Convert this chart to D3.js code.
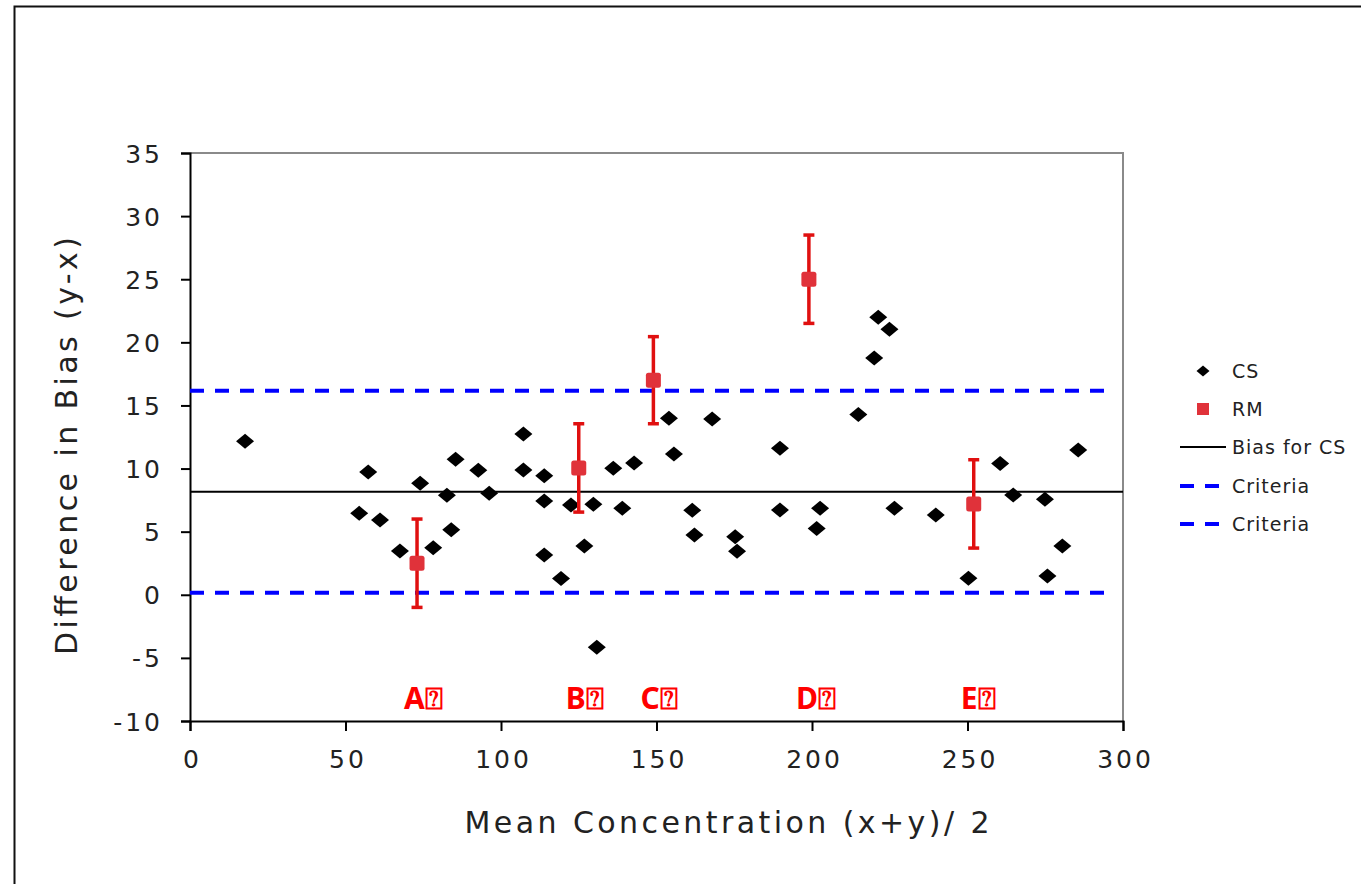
<!DOCTYPE html>
<html><head><meta charset="utf-8">
<script src="https://cdn.jsdelivr.net/npm/d3@7"></script>
<style>body{margin:0;background:#fff}svg{display:block}</style>
</head><body>
<script>
// ---- data ----
const csX = [17.7,54.4,57.3,61.1,67.5,74.0,78.2,82.6,84.0,85.4,92.7,96.2,107.2,107.2,113.9,113.9,113.9,119.3,122.5,126.8,129.7,130.8,136.1,139.0,142.8,154.0,155.6,161.5,162.2,167.9,175.3,175.9,189.7,189.7,201.5,202.6,214.9,220.0,221.3,224.9,226.5,239.8,250.3,260.5,264.7,274.9,275.7,280.5,285.6];
const csY = [12.16,6.45,9.73,5.92,3.47,8.83,3.73,7.88,5.16,10.73,9.86,8.04,12.74,9.88,9.43,7.43,3.15,1.28,7.11,3.86,7.17,-4.16,10.02,6.85,10.44,13.98,11.15,6.69,4.74,13.93,4.60,3.44,11.60,6.72,5.26,6.85,14.29,18.76,21.98,21.03,6.85,6.32,1.30,10.41,7.90,7.56,1.49,3.86,11.47];
const rmX = [73,125,149,199,252];
const rmY = [2.5,10.05,17.0,25.0,7.2];
const rmErr = [3.5,3.5,3.45,3.5,3.5];
const rmLabels = ["A","B","C","D","E"];
const labelY = -8.2;
const biasCS = 8.16;
const criteria = [16.16,0.16];
const xTicks = [0,50,100,150,200,250,300];
const yTicks = [-10,-5,0,5,10,15,20,25,30,35];
const legendItems = ["CS","RM","Bias for CS","Criteria","Criteria"];
const xTitle = "Mean Concentration (x+y)/ 2";
const yTitle = "Difference in Bias (y-x)";

const W = 1361, H = 884;
const svg = d3.select("body").append("svg").attr("width",W).attr("height",H);
const FONT = "'DejaVu Sans', sans-serif";

// outer frame
svg.append("rect").attr("x",14.5).attr("y",6.5).attr("width",1400).attr("height",1000)
  .attr("fill","none").attr("stroke","#111").attr("stroke-width",2);

const L=190, R=1123, T=153, B=721;
const x = d3.scaleLinear().domain([0,300]).range([L,R]);
const y = d3.scaleLinear().domain([-10,35]).range([B,T]);

// plot frame: top/right gray
svg.append("path").attr("d",`M${L},${T}H${R}V${B}`).attr("fill","none").attr("stroke","#8a8a8a").attr("stroke-width",2);

// axes
const fmt = d => String(d);
const xAxis = svg.append("g").attr("transform",`translate(0,${B})`)
  .call(d3.axisBottom(x).tickValues(xTicks).tickSize(10).tickPadding(19).tickFormat(fmt));
const yAxis = svg.append("g").attr("transform",`translate(${L},0)`)
  .call(d3.axisLeft(y).tickValues(yTicks).tickSize(9).tickPadding(18).tickFormat(fmt));
[xAxis,yAxis].forEach(g=>{
  g.select(".domain").attr("stroke","#000").attr("stroke-width",2);
  g.selectAll(".tick line").attr("stroke","#000").attr("stroke-width",2);
  g.selectAll("text").attr("font-family",FONT).attr("font-size",25).attr("fill","#222")
   .attr("letter-spacing","3px");
});
yAxis.selectAll("text").attr("dy","0.36em");
xAxis.selectAll("text").attr("dx","2px");

// reference lines
svg.append("line").attr("x1",L).attr("x2",R).attr("y1",y(biasCS)).attr("y2",y(biasCS))
  .attr("stroke","#000").attr("stroke-width",2);
criteria.forEach(c=>{
  svg.append("line").attr("x1",L).attr("x2",R-10).attr("y1",y(c)).attr("y2",y(c))
    .attr("stroke","#0000ff").attr("stroke-width",4).attr("stroke-dasharray","14 11");
});

// CS diamonds
const diamond = (w,h)=>`M0,${-h/2}L${w/2},0L0,${h/2}L${-w/2},0Z`;
svg.append("g").selectAll("path").data(csX.map((v,i)=>[v,csY[i]])).join("path")
  .attr("transform",d=>`translate(${x(d[0])},${y(d[1])})`)
  .attr("d",diamond(18,15)).attr("fill","#000");

// RM error bars + squares
const rm = rmX.map((v,i)=>({x:v,y:rmY[i],e:rmErr[i],lab:rmLabels[i]}));
const eg = svg.append("g").attr("stroke","#e01010").attr("stroke-width",3.5);
rm.forEach(d=>{
  const cx=x(d.x);
  eg.append("line").attr("x1",cx).attr("x2",cx).attr("y1",y(d.y+d.e)).attr("y2",y(d.y-d.e));
  eg.append("line").attr("x1",cx-5.5).attr("x2",cx+5.5).attr("y1",y(d.y+d.e)).attr("y2",y(d.y+d.e));
  eg.append("line").attr("x1",cx-5.5).attr("x2",cx+5.5).attr("y1",y(d.y-d.e)).attr("y2",y(d.y-d.e));
});
svg.append("g").selectAll("rect").data(rm).join("rect")
  .attr("x",d=>x(d.x)-7.5).attr("y",d=>y(d.y)-7.5).attr("width",15).attr("height",15)
  .attr("rx",2.5).attr("fill","#e0323a");

// RM labels
rm.forEach(d=>{
  const t = svg.append("text").attr("x",x(d.x)-13).attr("y",y(labelY)+11)
    .attr("font-family","'Noto Sans', sans-serif").attr("font-weight","bold").attr("font-size",30).attr("fill","#ff0000");
  t.append("tspan").text(d.lab);
  t.append("tspan").text("\u2370").attr("font-size",30);
});

// axis titles
svg.append("text").attr("x",727).attr("y",833).attr("text-anchor","middle")
  .attr("font-family",FONT).attr("font-size",30).attr("fill","#222")
  .attr("textLength",525).attr("lengthAdjust","spacing").text(xTitle);
svg.append("text").attr("transform","translate(77,446) rotate(-90)").attr("text-anchor","middle")
  .attr("font-family",FONT).attr("font-size",30).attr("fill","#222")
  .attr("textLength",418).attr("lengthAdjust","spacing").text(yTitle);

// legend
const lg = svg.append("g").attr("font-family",FONT).attr("font-size",19).attr("fill","#222");
const ly = [371,409,447,486,524];
lg.append("path").attr("transform",`translate(1203,${ly[0]})`).attr("d",diamond(13,11)).attr("fill","#000");
lg.append("rect").attr("x",1197).attr("y",ly[1]-6).attr("width",12).attr("height",12).attr("fill","#e0323a");
lg.append("line").attr("x1",1180).attr("x2",1226).attr("y1",ly[2]).attr("y2",ly[2]).attr("stroke","#000").attr("stroke-width",2);
[3,4].forEach(i=>lg.append("line").attr("x1",1180).attr("x2",1219).attr("y1",ly[i]).attr("y2",ly[i])
  .attr("stroke","#0000ff").attr("stroke-width",4).attr("stroke-dasharray","14 11"));
legendItems.forEach((t,i)=>{
  lg.append("text").attr("x",1232).attr("y",ly[i]+7).attr("letter-spacing","1px").text(t);
});
</script>
</body></html>
